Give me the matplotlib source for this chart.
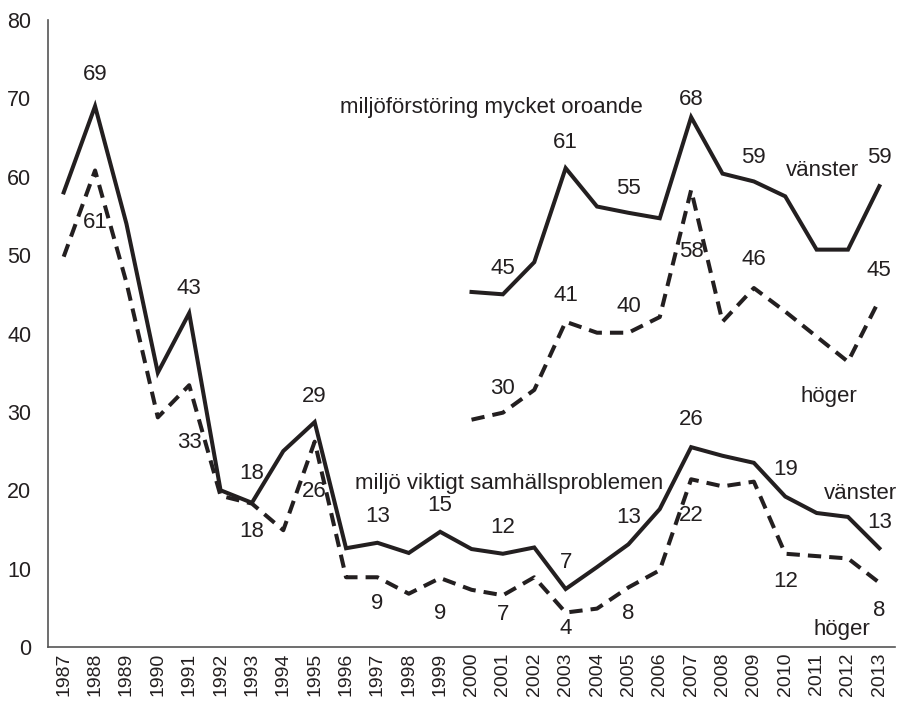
import matplotlib.pyplot as plt

plt.rcParams['font.family'] = ['Liberation Sans', 'DejaVu Sans']

years = list(range(1987, 2014))
years_oro = list(range(2000, 2014))

# miljö viktigt samhällsproblemen
viktigt_v = [58, 69, 54, 35, 42.6, 20, 18.4, 25, 28.7, 12.6, 13.3, 12, 14.7, 12.5,
             11.9, 12.7, 7.4, 10.2, 13.1, 17.6, 25.5, 24.4, 23.5, 19.2, 17.1, 16.6, 12.6]
viktigt_h = [49.8, 60.8, 46.5, 29.3, 33.4, 19.3, 18.3, 14.9, 26.2, 8.9, 8.9, 6.8, 8.8, 7.3,
             6.6, 8.9, 4.4, 4.9, 7.6, 9.8, 21.4, 20.5, 21.1, 11.9, 11.6, 11.3, 8.2]

# miljöförstöring mycket oroande
oro_v = [45.3, 45.0, 49.1, 61.1, 56.2, 55.4, 54.7, 67.6, 60.4, 59.4, 57.5, 50.7, 50.7, 58.8]
oro_h = [29.0, 29.9, 32.8, 41.5, 40.1, 40.1, 42.1, 58.3, 41.5, 45.8, 42.8, 39.6, 36.4, 44.3]

# value labels: (year, y position, text)
labels_viktigt = [
    (1988, 73.0, "69"), (1988, 54.2, "61"), (1991, 45.8, "43"), (1991, 26.1, "33"),
    (1993, 22.1, "18"), (1993, 14.7, "18"), (1995, 32.0, "29"), (1995, 19.8, "26"),
    (1997, 16.6, "13"), (1997, 5.5, "9"), (1999, 18.1, "15"), (1999, 4.3, "9"),
    (2001, 15.3, "12"), (2001, 4.2, "7"), (2003, 10.8, "7"), (2003, 2.4, "4"),
    (2005, 16.5, "13"), (2005, 4.3, "8"), (2007, 29.0, "26"), (2007, 16.8, "22"),
    (2010, 22.6, "19"), (2010, 8.4, "12"), (2013, 15.9, "13"), (2013, 4.7, "8"),
]
labels_oro = [
    (2001, 48.3, "45"), (2001, 33.0, "30"), (2003, 64.4, "61"), (2003, 44.8, "41"),
    (2005, 58.5, "55"), (2005, 43.5, "40"), (2007, 69.8, "68"), (2007, 50.4, "58"),
    (2009, 62.5, "59"), (2009, 49.4, "46"), (2013, 62.4, "59"), (2013, 48.1, "45"),
]

ink = '#231f20'
fs = 16

fig = plt.figure(figsize=(8.99, 7.01), dpi=100)
ax = fig.add_axes([0.0534, 0.077, 0.9422, 0.8945])

dash = (0, (3.3, 2.0))
ax.plot(years, viktigt_v, color=ink, linewidth=2.9, solid_joinstyle='miter')
ax.plot(years, viktigt_h, color=ink, linewidth=2.9, linestyle=dash)
ax.plot(years_oro, oro_v, color=ink, linewidth=2.9, solid_joinstyle='miter')
ax.plot(years_oro, oro_h, color=ink, linewidth=2.9, linestyle=dash)

for x, y, t in labels_viktigt + labels_oro:
    ax.text(x, y, t, ha='center', va='center', fontsize=fs, color=ink)

ax.text(1995.8, 68.8, "miljöförstöring mycket oroande", ha='left', va='center', fontsize=fs, color=ink)
ax.text(2011.2, 60.8, "vänster", ha='center', va='center', fontsize=fs, color=ink)
ax.text(2011.4, 31.9, "höger", ha='center', va='center', fontsize=fs, color=ink)
ax.text(2001.2, 20.8, "miljö viktigt samhällsproblemen", ha='center', va='center', fontsize=fs, color=ink)
ax.text(2012.4, 19.6, "vänster", ha='center', va='center', fontsize=fs, color=ink)
ax.text(2011.8, 2.2, "höger", ha='center', va='center', fontsize=fs, color=ink)

ax.set_xlim(1986.5, 2013.5)
ax.set_ylim(0, 80)
ax.set_xticks(years)
ax.set_xticklabels([str(y) for y in years], rotation=90, fontsize=14, color=ink)
ax.set_yticks(range(0, 81, 10))
ax.tick_params(axis='y', labelsize=15.5, colors=ink, length=0, pad=12)
ax.tick_params(axis='x', length=0, pad=4)

for side in ['top', 'right']:
    ax.spines[side].set_visible(False)
for side in ['left', 'bottom']:
    ax.spines[side].set_color('#555555')
    ax.spines[side].set_linewidth(1.2)

fig.savefig('out.png', dpi=100)
